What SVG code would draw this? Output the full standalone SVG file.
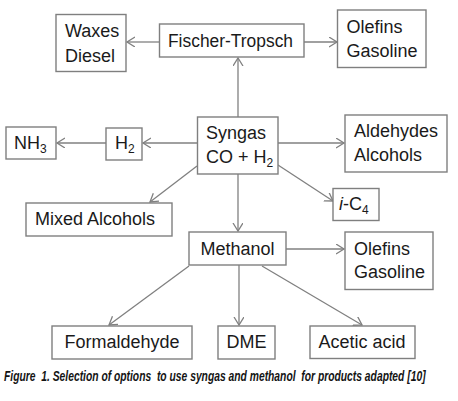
<svg xmlns="http://www.w3.org/2000/svg" width="458" height="401" viewBox="0 0 458 401">
<defs>
<style>
.box{fill:#fff;stroke:#7f7f7f;stroke-width:1.4}
.t{font-family:"Liberation Sans",Arial,sans-serif;font-size:18px;fill:#1a1a1a}
.sub{font-size:12px}
.c{fill:none;stroke:#808080;stroke-width:1.3}
.cap{font-family:"Liberation Sans",Arial,sans-serif;font-size:15px;font-style:italic;font-weight:bold;fill:#141414}
</style>
<marker id="ah" markerUnits="userSpaceOnUse" markerWidth="12" markerHeight="12" refX="8" refY="5" orient="auto">
<path d="M0,0 L8,5 L0,10" fill="none" stroke="#808080" stroke-width="1.3"/>
</marker>
</defs>
<rect width="458" height="401" fill="#fff"/>
<g id="connectors">
<path class="c" d="M159,42 L127,42" marker-end="url(#ah)"/>
<path class="c" d="M304,42 L337,42" marker-end="url(#ah)"/>
<path class="c" d="M238,117 L238,58" marker-end="url(#ah)"/>
<path class="c" d="M197,143 L143,143" marker-end="url(#ah)"/>
<path class="c" d="M106,143 L57,143" marker-end="url(#ah)"/>
<path class="c" d="M278,143 L344,143" marker-end="url(#ah)"/>
<path class="c" d="M197,166 L150,202" marker-end="url(#ah)"/>
<path class="c" d="M278,165 L333,201" marker-end="url(#ah)"/>
<path class="c" d="M238,174 L238,231" marker-end="url(#ah)"/>
<path class="c" d="M286,249 L344,249" marker-end="url(#ah)"/>
<path class="c" d="M189,266 L109,325" marker-end="url(#ah)"/>
<path class="c" d="M239,265 L239,325" marker-end="url(#ah)"/>
<path class="c" d="M262,266 L362,325" marker-end="url(#ah)"/>
</g>
<g id="waxes"><rect class="box" x="56" y="14.5" width="70" height="57"/><text class="t" x="65" y="37">Waxes</text><text class="t" x="65" y="61.5">Diesel</text></g>
<g id="fischer-tropsch"><rect class="box" x="159.5" y="24" width="144.5" height="33"/><text class="t" x="168" y="47.3" textLength="125" lengthAdjust="spacingAndGlyphs">Fischer-Tropsch</text></g>
<g id="olefins-top"><rect class="box" x="337.5" y="10" width="88.5" height="57.5"/><text class="t" x="346.5" y="33.3">Olefins</text><text class="t" x="346.5" y="57.3">Gasoline</text></g>
<g id="nh3"><rect class="box" x="6" y="127" width="50" height="32"/><text class="t" x="14" y="149.3">NH<tspan class="sub" dy="4">3</tspan></text></g>
<g id="h2"><rect class="box" x="106" y="128" width="36" height="32"/><text class="t" x="115" y="149.3">H<tspan class="sub" dy="4">2</tspan></text></g>
<g id="syngas"><rect class="box" x="197.5" y="117" width="80.5" height="57"/><text class="t" x="206" y="139.3">Syngas</text><text class="t" x="206" y="163.3">CO + H<tspan class="sub" dy="4">2</tspan></text></g>
<g id="aldehydes"><rect class="box" x="345" y="115" width="102" height="57"/><text class="t" x="354" y="137.3">Aldehydes</text><text class="t" x="354" y="161">Alcohols</text></g>
<g id="mixed-alcohols"><rect class="box" x="26" y="203" width="146" height="33"/><text class="t" x="35" y="225">Mixed Alcohols</text></g>
<g id="i-c4"><rect class="box" x="333" y="188.5" width="46" height="32"/><text class="t" x="339" y="210"><tspan font-style="italic">i</tspan>-C<tspan class="sub" dy="4">4</tspan></text></g>
<g id="methanol"><rect class="box" x="189" y="232" width="97" height="33"/><text class="t" x="237.5" y="255" text-anchor="middle">Methanol</text></g>
<g id="olefins-bottom"><rect class="box" x="345" y="232" width="88" height="57.5"/><text class="t" x="354" y="255">Olefins</text><text class="t" x="354" y="278.3">Gasoline</text></g>
<g id="formaldehyde"><rect class="box" x="52" y="326" width="140" height="33"/><text class="t" x="122" y="348.3" text-anchor="middle">Formaldehyde</text></g>
<g id="dme"><rect class="box" x="218" y="326" width="57" height="33"/><text class="t" x="246.5" y="348.3" text-anchor="middle">DME</text></g>
<g id="acetic-acid"><rect class="box" x="310" y="326" width="105" height="32.5"/><text class="t" x="362" y="348.3" text-anchor="middle">Acetic acid</text></g>
<text class="cap" transform="scale(0.62,1)" x="6.45" y="381" xml:space="preserve" textLength="680" lengthAdjust="spacingAndGlyphs">Figure  1. Selection of options  to use syngas and methanol  for products adapted [10]</text>
</svg>
